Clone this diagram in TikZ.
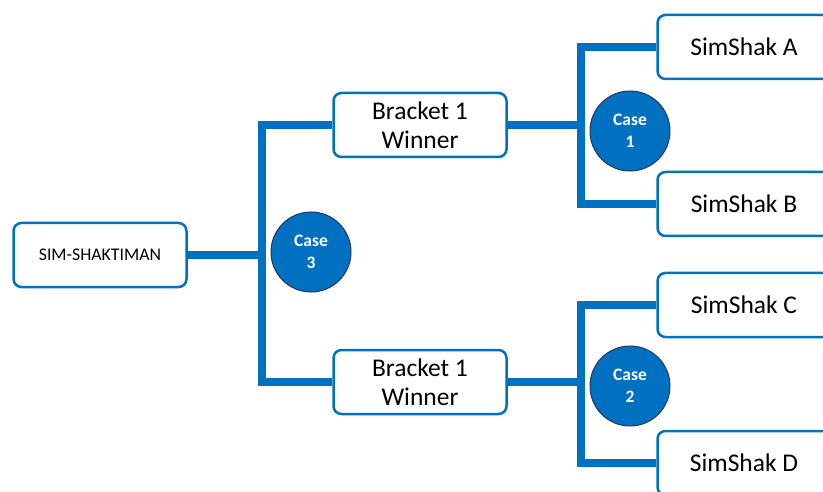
\documentclass[tikz,border=0pt]{standalone}
\usepackage{fontspec}
\setmainfont{Carlito}
\usetikzlibrary{backgrounds}
\definecolor{simblue}{RGB}{0,112,192}
\definecolor{simrim}{RGB}{32,56,100}

\begin{document}
\begin{tikzpicture}[x=1pt,y=-1pt,
	entry/.style={draw=simblue,line width=2.5pt,fill=white,rounded corners=8pt,minimum width=173pt,minimum height=64pt,align=center,font=\fontsize{25.5}{29}\selectfont},
	casebadge/.style={circle,fill=simblue,draw=simrim,line width=1pt,minimum size=80pt,inner sep=0pt,align=center,text=white,font=\bfseries\fontsize{17.5}{22}\selectfont},
	link/.style={draw=simblue,line width=8.5pt}]
				\useasboundingbox (0,0) rectangle (823,492);
				\clip (0,0) rectangle (823,492);
				\node[entry,font=\fontsize{17.8}{20}\selectfont] (root) at (100,255) {SIM-SHAKTIMAN};
				\node[entry] (w1) at (420,125) {Bracket 1\\Winner};
				\node[entry] (w2) at (420,382) {Bracket 1\\Winner};
				\node[entry] (sa) at (744,47) {SimShak A};
				\node[entry] (sb) at (744,204) {SimShak B};
				\node[entry] (sc) at (744,305) {SimShak C};
				\node[entry] (sd) at (744,463) {SimShak D};
				\node[casebadge] (c3) at (311,252) {Case\\3};
				\node[casebadge] (c1) at (630,131) {Case\\1};
				\node[casebadge] (c2) at (630,386) {Case\\2};
				\coordinate (j3) at (262,255);
				\coordinate (j1) at (581,125);
				\coordinate (j2) at (581,382);
				\begin{scope}[on background layer]
					\draw[link] (root) -- (j3);
					\draw[link] (w1) -| (j3) |- (w2);
					\draw[link] (w1) -- (j1);
					\draw[link] (sa) -| (j1) |- (sb);
					\draw[link] (w2) -- (j2);
					\draw[link] (sc) -| (j2) |- (sd);
				\end{scope}
			\end{tikzpicture}
\end{document}
